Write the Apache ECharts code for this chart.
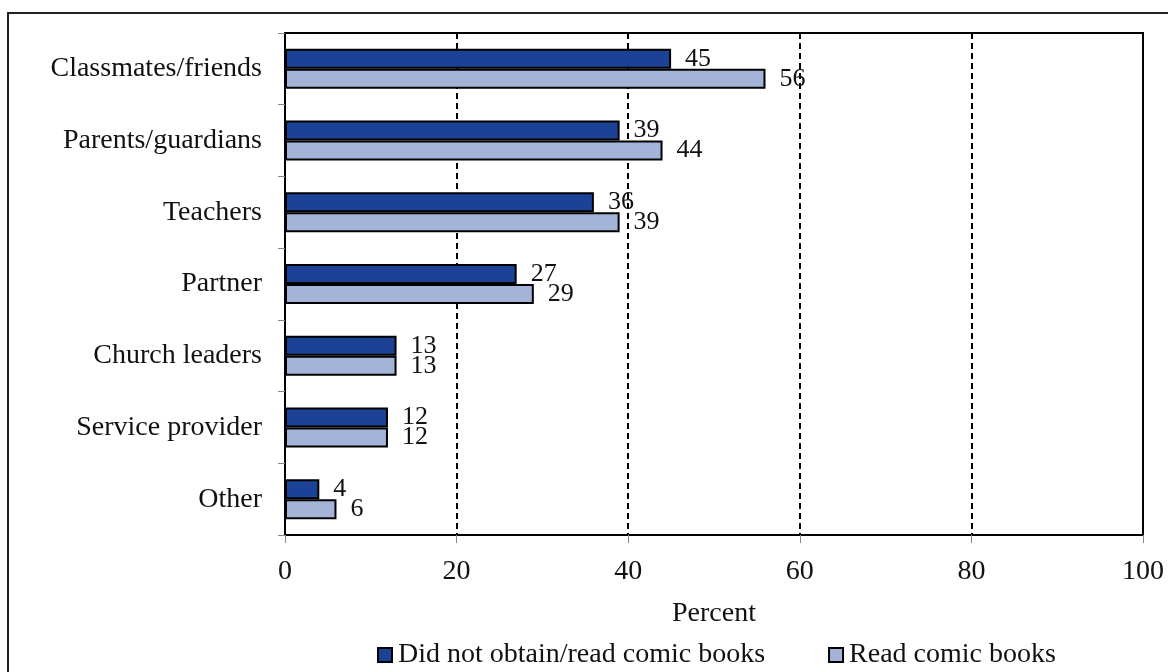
<!DOCTYPE html>
<html>
<head>
<meta charset="utf-8">
<script src="https://cdn.jsdelivr.net/npm/echarts@6/dist/echarts.min.js"></script>
<style>
  html, body { margin: 0; padding: 0; background: #fff; }
  #chart { width: 1168px; height: 672px; }
</style>
</head>
<body>
<div id="chart"></div>
<script>
const categories = ["Classmates/friends", "Parents/guardians", "Teachers", "Partner", "Church leaders", "Service provider", "Other"];
const didNotRead = [45, 39, 36, 27, 13, 12, 4];
const readComics = [56, 44, 39, 29, 13, 12, 6];
const xTicks = [0, 20, 40, 60, 80, 100];

const serif = '"Liberation Serif", "DejaVu Serif", serif';

const chart = echarts.init(document.getElementById("chart"));

const barLabel = {
  show: true,
  position: "right",
  distance: 14,
  color: "#111",
  fontFamily: serif,
  fontSize: 26
};

const option = {
  animation: false,
  textStyle: { fontFamily: serif },
  grid: {
    left: 285,
    top: 33,
    width: 858,
    height: 502,
    show: true,
    borderColor: "#000",
    borderWidth: 2,
    backgroundColor: "transparent"
  },
  graphic: [
    {
      type: "rect",
      shape: { x: 8, y: 13, width: 1200, height: 700 },
      style: { fill: "none", stroke: "#222", lineWidth: 2 },
      silent: true
    }
  ],
  legend: {
    left: 372,
    top: 636,
    itemWidth: 14,
    itemHeight: 14,
    itemGap: 63,
    icon: "rect",
    textStyle: { fontFamily: serif, fontSize: 28, color: "#111", padding: [0, 0, 0, 1] },
    data: ["Did not obtain/read comic books", "Read comic books"]
  },
  xAxis: {
    type: "value",
    min: xTicks[0],
    max: xTicks[xTicks.length - 1],
    interval: 20,
    name: "Percent",
    nameLocation: "middle",
    nameGap: 65,
    nameTextStyle: { fontFamily: serif, fontSize: 28, color: "#111" },
    axisLine: { show: true, lineStyle: { color: "#000", width: 2 } },
    axisTick: { show: true, length: 8, lineStyle: { color: "#888", width: 1 } },
    axisLabel: { margin: 23, fontFamily: serif, fontSize: 28, color: "#111" },
    splitLine: { show: true, lineStyle: { color: "#000", width: 2, type: [6, 4] } }
  },
  yAxis: {
    type: "category",
    inverse: true,
    data: categories,
    axisLine: { show: true, lineStyle: { color: "#000", width: 2 } },
    axisTick: { show: true, length: 7, alignWithLabel: false, lineStyle: { color: "#888", width: 1 } },
    axisLabel: { margin: 23, fontFamily: serif, fontSize: 28, color: "#111" }
  },
  series: [
    {
      name: "Did not obtain/read comic books",
      type: "bar",
      data: didNotRead,
      barWidth: 20,
      barGap: "0%",
      itemStyle: { color: "#1b4297", borderColor: "#000", borderWidth: 2 },
      label: barLabel
    },
    {
      name: "Read comic books",
      type: "bar",
      data: readComics,
      barWidth: 20,
      barGap: "0%",
      itemStyle: { color: "#a3b4d8", borderColor: "#000", borderWidth: 2 },
      label: barLabel
    }
  ]
};

chart.setOption(option);
</script>
</body>
</html>
